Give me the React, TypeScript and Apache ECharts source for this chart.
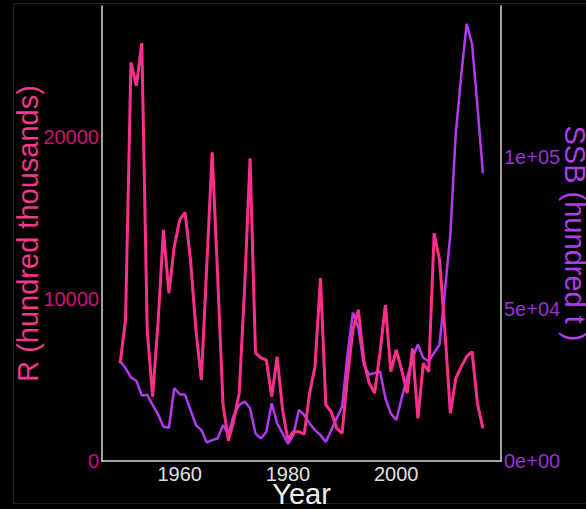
import React, { useEffect, useRef } from "react";
import * as echarts from "echarts";

const years = [
  1949, 1950, 1951, 1952, 1953, 1954, 1955, 1956, 1957, 1958, 1959,
  1960, 1961, 1962, 1963, 1964, 1965, 1966, 1967, 1968, 1969,
  1970, 1971, 1972, 1973, 1974, 1975, 1976, 1977, 1978, 1979,
  1980, 1981, 1982, 1983, 1984, 1985, 1986, 1987, 1988, 1989,
  1990, 1991, 1992, 1993, 1994, 1995, 1996, 1997, 1998, 1999,
  2000, 2001, 2002, 2003, 2004, 2005, 2006, 2007, 2008, 2009,
  2010, 2011, 2012, 2013, 2014, 2015, 2016,
];

const recruitment = [
  6030, 8700, 24590, 23150, 25780, 8090, 3970, 8500, 14260, 10350, 13230,
  14880, 15330, 12400, 8090, 5000, 12000, 19050, 11500, 3500, 1250,
  2530, 4200, 10760, 18680, 6670, 6360, 6230, 3970, 6440, 3150,
  1300, 1810, 1810, 1650, 4190, 5820, 11280, 3460, 3040, 2020,
  1710, 5200, 8090, 9320, 6230, 4810, 4190, 6670, 9630, 5510,
  6850, 5620, 4180, 6950, 2630, 6030, 5510, 14050, 12400, 7980,
  2940, 5100, 5820, 6440, 6750, 3560, 2020,
];

const ssb = [
  32780, 30560, 27480, 26390, 21520, 21750, 18440, 15330, 11260, 10930, 23940,
  21950, 21750, 16780, 11810, 10160, 6070, 6850, 7380, 11800, 8800,
  15130, 18440, 19530, 17320, 9040, 7380, 9600, 18970, 12350, 9040,
  5730, 8510, 16780, 15130, 12350, 10160, 8510, 6290, 10160, 14010,
  17880, 35000, 48770, 43800, 31690, 28380, 28910, 29470, 20630, 15660,
  13470, 20630, 27250, 33870, 38300, 33870, 32780, 35530, 38300, 55960,
  74730, 107840, 126580, 143700, 137080, 116650, 94600,
];

const xTickValues = [1960, 1980, 2000];

const FONT = "'Liberation Sans', Arial, Helvetica, sans-serif";

function sci(v: number): string {
  if (v === 0) return "0e+00";
  const e = Math.floor(Math.log10(Math.abs(v)));
  const m = Math.round(v / Math.pow(10, e));
  const es = (e < 0 ? "-" : "+") + String(Math.abs(e)).padStart(2, "0");
  return m + "e" + es;
}

export default function App() {
  const ref = useRef<HTMLDivElement>(null);

  useEffect(() => {
    document.body.style.margin = "0";
    document.body.style.background = "#000";
    const chart = echarts.init(ref.current!, null, { renderer: "svg" });
    const axisLine = { show: true, lineStyle: { color: "#d9d9d9", width: 1.5 } };
    chart.setOption({
      animation: false,
      backgroundColor: "#000000",
      textStyle: { fontFamily: FONT },
      graphic: [
        {
          type: "rect",
          silent: true,
          z: -1,
          shape: { x: 13.5, y: 3.5, width: 600, height: 500 },
          style: { fill: "none", stroke: "#222222", lineWidth: 1 },
        },
      ],
      grid: {
        left: 102,
        right: 85,
        top: 6,
        bottom: 48,
        containLabel: false,
        outerBoundsMode: "none",
      },
      xAxis: {
        type: "value",
        min: 1945.65,
        max: 2019.35,
        name: "Year",
        nameLocation: "middle",
        nameGap: 18,
        nameMoveOverlap: false,
        nameTextStyle: { color: "#eeeeee", fontSize: 29, fontFamily: FONT },
        axisLine,
        axisTick: { show: false },
        splitLine: { show: false },
        axisLabel: {
          customValues: xTickValues,
          color: "#e0e0e0",
          fontSize: 20,
          margin: 3,
          fontFamily: FONT,
          formatter: (v: number) => String(v),
        },
      },
      yAxis: [
        {
          type: "value",
          position: "left",
          min: 0,
          max: 28070,
          interval: 10000,
          name: "R (hundred thousands)",
          nameLocation: "middle",
          nameGap: 60,
          nameMoveOverlap: false,
          nameTextStyle: { color: "#ee3a8c", fontSize: 29, fontFamily: FONT },
          axisLine,
          axisTick: { show: false },
          splitLine: { show: false },
          axisLabel: {
            color: "#cd1076",
            fontSize: 20,
            margin: 3,
            showMaxLabel: false,
            fontFamily: FONT,
            formatter: (v: number) => String(v),
          },
        },
        {
          type: "value",
          position: "right",
          min: 0,
          max: 149560,
          interval: 50000,
          name: "SSB (hundred t )",
          nameLocation: "middle",
          nameGap: 59,
          nameRotate: -90,
          nameMoveOverlap: false,
          nameTextStyle: { color: "#b23aee", fontSize: 29, fontFamily: FONT },
          axisLine,
          axisTick: { show: false },
          splitLine: { show: false },
          axisLabel: {
            color: "#9a32cd",
            fontSize: 20,
            margin: 3,
            showMaxLabel: false,
            fontFamily: FONT,
            formatter: (v: number) => sci(v),
          },
        },
      ],
      series: [
        {
          name: "SSB",
          type: "line",
          yAxisIndex: 1,
          symbol: "none",
          data: years.map((y, i) => [y, ssb[i]]),
          lineStyle: { color: "#b23aee", width: 2.5 },
          z: 2,
        },
        {
          name: "R",
          type: "line",
          yAxisIndex: 0,
          symbol: "none",
          data: years.map((y, i) => [y, recruitment[i]]),
          lineStyle: { color: "#ff2e8c", width: 3 },
          z: 3,
        },
      ],
    });
    return () => chart.dispose();
  }, []);

  return (
    <div
      ref={ref}
      style={{ position: "fixed", left: 0, top: 0, width: 586, height: 509 }}
    />
  );
}
